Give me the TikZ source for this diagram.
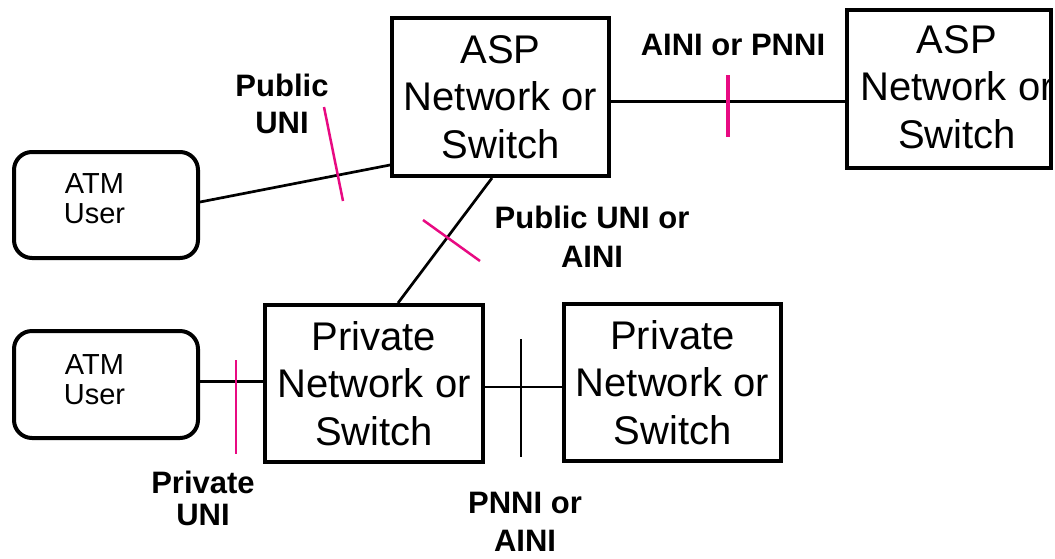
\documentclass[tikz,border=0pt]{standalone}
\usepackage{fontspec}
\setmainfont{Liberation Sans}
\definecolor{tickpink}{RGB}{232,10,130}
\begin{document}
\begin{tikzpicture}[x=1pt,y=-1pt,
  box/.style={draw, line width=4pt, rectangle, inner sep=0pt},
  userbox/.style={box, rounded corners=18pt},
  bigtext/.style={align=center, font=\fontsize{40}{47.5}\selectfont},
  usertext/.style={align=center, font=\fontsize{29}{30}\selectfont, anchor=base, inner sep=0pt},
  lbl/.style={align=center, font=\fontsize{31}{#1}\selectfont\bfseries, anchor=base, inner sep=0pt},
  conn/.style={line width=2.7pt},
  tickmark/.style={line width=2.5pt, draw=tickpink}]
\useasboundingbox (0,0) rectangle (1055,558);

% boxes
\node[box, minimum width=217pt, minimum height=158pt, bigtext] (asp1) at (500.5,97) {ASP\\Network or\\Switch};
\node[box, minimum width=204pt, minimum height=158pt] (asp2) at (949,89) {};
\node[bigtext, anchor=base, inner sep=0pt] (asp2t) at (957,148) {ASP\\Network or\\Switch};
\node[userbox, minimum width=184pt, minimum height=106pt] (atm1) at (106,205) {};
\node[usertext] (atm1t) at (94.5,223) {ATM\\User};
\node[userbox, minimum width=184pt, minimum height=107pt] (atm2) at (106,384.5) {};
\node[usertext] (atm2t) at (94.5,404) {ATM\\User};
\node[box, minimum width=218pt, minimum height=157pt, bigtext] (priv1) at (374,383.5) {Private\\Network or\\Switch};
\node[box, minimum width=217pt, minimum height=157pt, bigtext] (priv2) at (672.5,382.5) {Private\\Network or\\Switch};

% connectors
\draw[conn] ([yshift=3pt]atm1.east) -- ([yshift=13pt]asp1.south west);
\draw[conn] ([yshift=-4.5pt]asp1.east) -- ([yshift=-4.5pt]asp1.east -| asp2.west);
\draw[conn] ([xshift=-8.5pt]asp1.south) -- ([xshift=24pt]priv1.north);
\draw[conn] ([yshift=3pt]atm2.east) -- ([yshift=3pt]atm2.east -| priv1.west);
\draw[conn] ([yshift=-3.5pt]priv1.east) -- ([yshift=-3.5pt]priv1.east -| priv2.west);

% interface tick marks
\coordinate (t1a) at (324,107); \coordinate (t1b) at (343,201);
\coordinate (t2a) at (728,75);  \coordinate (t2b) at (728,137);
\coordinate (t3a) at (423,220); \coordinate (t3b) at (480,261);
\coordinate (t4a) at (236,360); \coordinate (t4b) at (236,454);
\coordinate (t5a) at (521,339); \coordinate (t5b) at (521,457);
\draw[tickmark] (t1a) -- (t1b);
\draw[tickmark, line width=4pt] (t2a) -- (t2b);
\draw[tickmark] (t3a) -- (t3b);
\draw[tickmark, line width=2.2pt] (t4a) -- (t4b);
\draw[line width=2pt] (t5a) -- (t5b);

% labels
\node[lbl=37] (l1) at (282,133) {Public\\UNI};
\node[lbl=37] (l2) at (733,55) {AINI or PNNI};
\node[lbl=39] (l3) at (592,267) {Public UNI or\\AINI};
\node[lbl=32] (l4) at (203,525) {Private\\UNI};
\node[lbl=38] (l5) at (525,551) {PNNI or\\AINI};
\end{tikzpicture}
\end{document}
